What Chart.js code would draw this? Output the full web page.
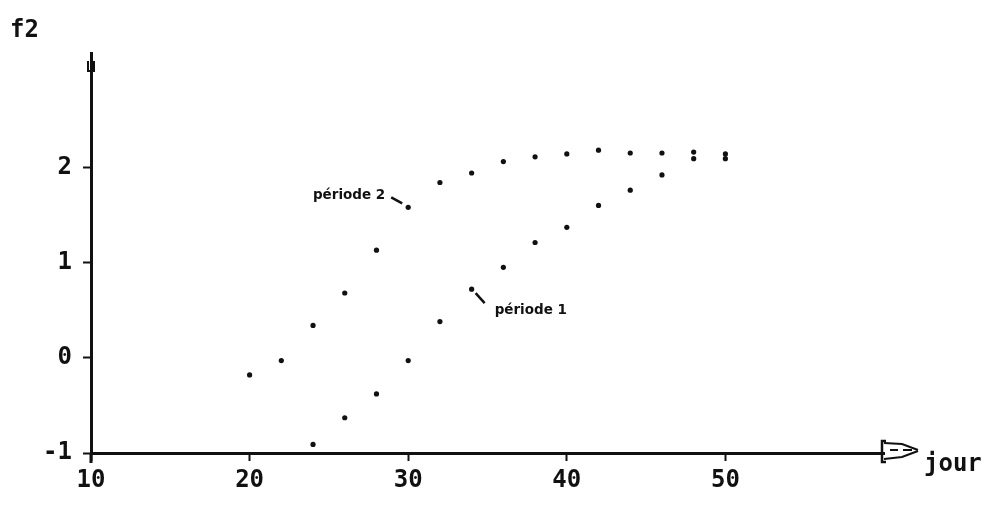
<!DOCTYPE html>
<html>
<head>
<meta charset="utf-8">
<script src="https://cdn.jsdelivr.net/npm/chart.js@4"></script>
<style>
  html, body { margin: 0; padding: 0; background: #fff; }
  #wrap { width: 992px; height: 519px; position: relative; }
</style>
</head>
<body>
<div id="wrap"><canvas id="f2Chart"></canvas></div>
<script>
// f2 vs jour, two periods
const days1 = [24, 26, 28, 30, 32, 34, 36, 38, 40, 42, 44, 46, 48, 50];
const f2Periode1 = [-0.91, -0.63, -0.38, -0.03, 0.38, 0.72, 0.95, 1.21, 1.37, 1.60, 1.76, 1.92, 2.09, 2.09];

const days2 = [20, 22, 24, 26, 28, 30, 32, 34, 36, 38, 40, 42, 44, 46, 48, 50];
const f2Periode2 = [-0.18, -0.03, 0.34, 0.68, 1.13, 1.58, 1.84, 1.94, 2.06, 2.11, 2.14, 2.18, 2.15, 2.15, 2.16, 2.14];

const xTicks = [10, 20, 30, 40, 50];
const yTicks = [-1, 0, 1, 2];

const INK = '#111';
const tickFont = { family: 'DejaVu Sans Mono', size: 24, weight: 'bold' };
const noteFont = 'bold 13.5px "DejaVu Sans"';

const toPoints = (xs, ys) => xs.map((x, i) => ({ x: x, y: ys[i] }));

// extra decorations: axis ends, titles, the two "période" notes
const decorPlugin = {
  id: 'decor',
  afterDraw(chart) {
    const { ctx, chartArea: a, scales: { x, y } } = chart;
    ctx.save();
    ctx.strokeStyle = INK;
    ctx.fillStyle = INK;

    // y axis: run a little below the x axis, small box at the top
    ctx.lineWidth = 3;
    ctx.beginPath();
    ctx.moveTo(a.left, a.bottom);
    ctx.lineTo(a.left, a.bottom + 10);
    ctx.stroke();
    ctx.lineWidth = 2;
    ctx.beginPath();
    ctx.moveTo(a.left - 3, a.top + 8);
    ctx.lineTo(a.left - 3, a.top + 18);
    ctx.lineTo(a.left + 3, a.top + 18);
    ctx.lineTo(a.left + 3, a.top + 8);
    ctx.stroke();

    // x axis arrow at the right end
    const ax = a.right - 2, ay = a.bottom;
    ctx.lineWidth = 2.5;
    ctx.beginPath();
    ctx.moveTo(ax + 4, ay - 12);
    ctx.lineTo(ax, ay - 12);
    ctx.lineTo(ax, ay + 9);
    ctx.lineTo(ax + 4, ay + 9);
    ctx.stroke();
    ctx.lineWidth = 2;
    ctx.beginPath();
    ctx.moveTo(ax + 2, ay - 10);
    ctx.lineTo(ax + 20, ay - 9);
    ctx.lineTo(ax + 36, ay - 3);
    ctx.moveTo(ax + 2, ay + 6);
    ctx.lineTo(ax + 20, ay + 4);
    ctx.lineTo(ax + 36, ay - 2);
    ctx.moveTo(ax + 8, ay - 3);
    ctx.lineTo(ax + 16, ay - 3);
    ctx.moveTo(ax + 21, ay - 3);
    ctx.lineTo(ax + 30, ay - 3);
    ctx.stroke();

    // axis titles
    ctx.font = 'bold 24px "DejaVu Sans Mono"';
    ctx.textBaseline = 'alphabetic';
    ctx.textAlign = 'left';
    ctx.fillText('f2', 10, 37);
    ctx.fillText('jour', a.right + 40, ay + 18);

    // note "période 2" pointing at day 30 of period 2
    const p2x = x.getPixelForValue(30), p2y = y.getPixelForValue(1.58);
    ctx.lineWidth = 2.5;
    ctx.beginPath();
    ctx.moveTo(p2x - 6, p2y - 4);
    ctx.lineTo(p2x - 17, p2y - 10);
    ctx.stroke();
    ctx.font = noteFont;
    ctx.textBaseline = 'middle';
    ctx.textAlign = 'right';
    ctx.fillText('période 2', p2x - 23, p2y - 12);

    // note "période 1" pointing at day 34 of period 1
    const p1x = x.getPixelForValue(34), p1y = y.getPixelForValue(0.72);
    ctx.beginPath();
    ctx.moveTo(p1x + 4, p1y + 4);
    ctx.lineTo(p1x + 13, p1y + 14);
    ctx.stroke();
    ctx.textAlign = 'left';
    ctx.fillText('période 1', p1x + 23, p1y + 21);

    ctx.restore();
  }
};

new Chart(document.getElementById('f2Chart'), {
  type: 'scatter',
  data: {
    datasets: [
      {
        label: 'période 1',
        data: toPoints(days1, f2Periode1),
        backgroundColor: INK,
        borderColor: INK,
        pointRadius: 2.6,
        borderWidth: 0
      },
      {
        label: 'période 2',
        data: toPoints(days2, f2Periode2),
        backgroundColor: INK,
        borderColor: INK,
        pointRadius: 2.6,
        borderWidth: 0
      }
    ]
  },
  options: {
    responsive: true,
    maintainAspectRatio: false,
    animation: false,
    layout: { padding: { top: 53, right: 108, left: 0, bottom: 0 } },
    plugins: {
      legend: { display: false },
      tooltip: { enabled: false }
    },
    scales: {
      x: {
        type: 'linear',
        min: 10,
        max: 60,
        afterBuildTicks: (axis) => { axis.ticks = xTicks.map(v => ({ value: v })); },
        afterFit: (axis) => { axis.height = 66; },
        ticks: { color: INK, font: tickFont, padding: 5, maxRotation: 0 },
        grid: { display: true, drawOnChartArea: false, tickLength: 8, tickColor: INK, tickWidth: 2 },
        border: { display: true, color: INK, width: 3 }
      },
      y: {
        type: 'linear',
        min: -1,
        max: 3.2,
        afterBuildTicks: (axis) => { axis.ticks = yTicks.map(v => ({ value: v })); },
        afterFit: (axis) => { axis.width = 91; },
        ticks: { color: INK, font: tickFont, padding: 11 },
        grid: { display: true, drawOnChartArea: false, tickLength: 8, tickColor: INK, tickWidth: 2 },
        border: { display: true, color: INK, width: 3 }
      }
    }
  },
  plugins: [decorPlugin]
});
</script>
</body>
</html>
